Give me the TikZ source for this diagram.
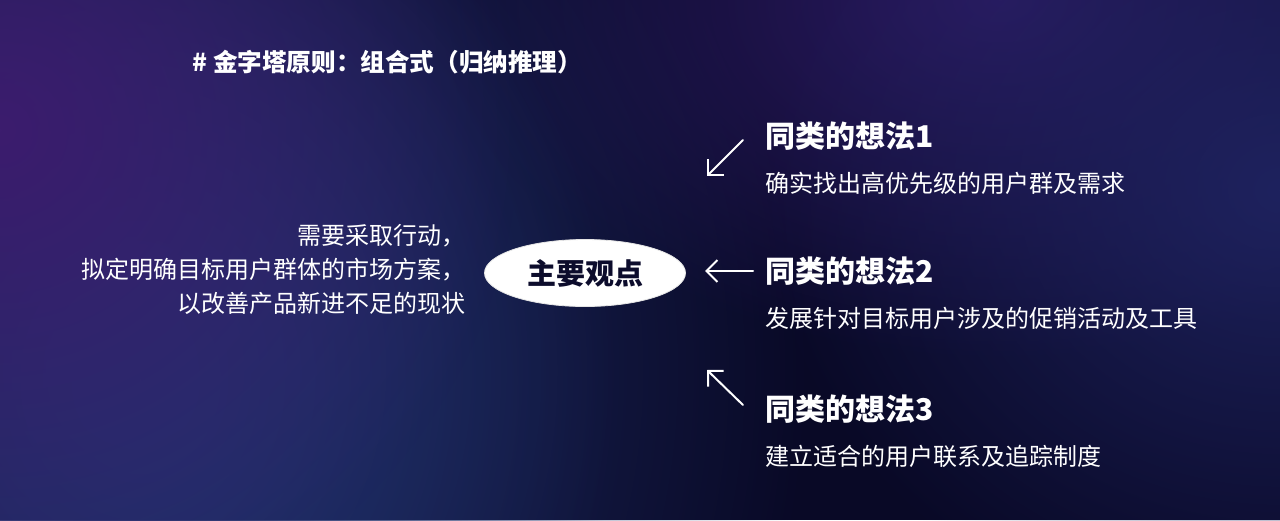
\documentclass[tikz,border=0pt]{standalone}
\usepackage{fontspec}
\setmainfont{Noto Sans CJK SC}
\usetikzlibrary{positioning,shapes.geometric,arrows.meta,fadings}

\definecolor{bgnavy}{HTML}{090926}
\definecolor{glowblue}{HTML}{21316C}
\definecolor{glowpurple}{HTML}{3C1C6E}
\definecolor{glowviolet}{HTML}{2C1A62}
\definecolor{glowright}{HTML}{1E225E}
\definecolor{inknavy}{HTML}{0C0C2C}

\tikzfading[name=glow, inner color=transparent!0, outer color=transparent!100]

\tikzset{
  heading/.style={anchor=west, inner sep=0, text=white, font=\fontsize{15}{18}\selectfont\bfseries},
  detail/.style={anchor=west, inner sep=0, text=white, font=\fontsize{12}{14}\selectfont},
  pointer/.style={white, line width=1pt, line cap=round, -{Straight Barb[length=5.5pt,width=11pt]}},
}

\begin{document}
\begin{tikzpicture}[x=0.5pt, y=-0.5pt]
        % background
        \useasboundingbox (0,0) rectangle (1280,520);
        \fill[bgnavy] (0,0) rectangle (1280,520);
        \begin{scope}
          \clip (0,0) rectangle (1280,520);
          \fill[glowblue, path fading=glow] (130,370) ellipse (680 and 760);
          \fill[glowblue, path fading=glow] (140,380) ellipse (480 and 560);
          \fill[glowpurple, path fading=glow] (0,130) ellipse (520 and 520);
          \fill[glowviolet, path fading=glow] (1000,0) ellipse (560 and 360);
          \fill[glowright, path fading=glow] (1280,190) ellipse (520 and 460);
        \end{scope}

        \node[anchor=west, inner sep=0, text=white, font=\fontsize{12.3}{14}\selectfont\bfseries] (title) at (192,62) {\# 金字塔原则：组合式（归纳推理）};

        \node[ellipse, fill=white, draw=white!80!gray, minimum width=100.5pt, minimum height=33.5pt, inner sep=0,
              text=inknavy, font=\fontsize{14.5}{16}\selectfont\bfseries] (main) at (585,273) {主要观点};

        \node[anchor=east, inner sep=0, align=right, text=white, font=\fontsize{12}{17}\selectfont] (reason) at (466,269)
          {需要采取行动，\\拟定明确目标用户群体的市场方案，\\以改善产品新进不足的现状};

        \node[heading] (idea1) at (765,136) {同类的想法1};
        \node[detail, below=23.5pt of idea1.west, anchor=west] (note1) {确实找出高优先级的用户群及需求};
        \node[heading] (idea2) at (765,271) {同类的想法2};
        \node[detail, below=23.5pt of idea2.west, anchor=west] (note2) {发展针对目标用户涉及的促销活动及工具};
        \node[heading] (idea3) at (765,409) {同类的想法3};
        \node[detail, below=23.5pt of idea3.west, anchor=west] (note3) {建立适合的用户联系及追踪制度};

        \coordinate (from1) at (743,140);
        \coordinate (to1) at (707,176);
        \coordinate (from2) at (753,271);
        \coordinate (to2) at (705,271);
        \coordinate (from3) at (743,405);
        \coordinate (to3) at (707,370);
        \draw[pointer] (from1) -- (to1);
        \draw[pointer] (from2) -- (to2);
        \draw[pointer] (from3) -- (to3);
      \end{tikzpicture}
\end{document}
